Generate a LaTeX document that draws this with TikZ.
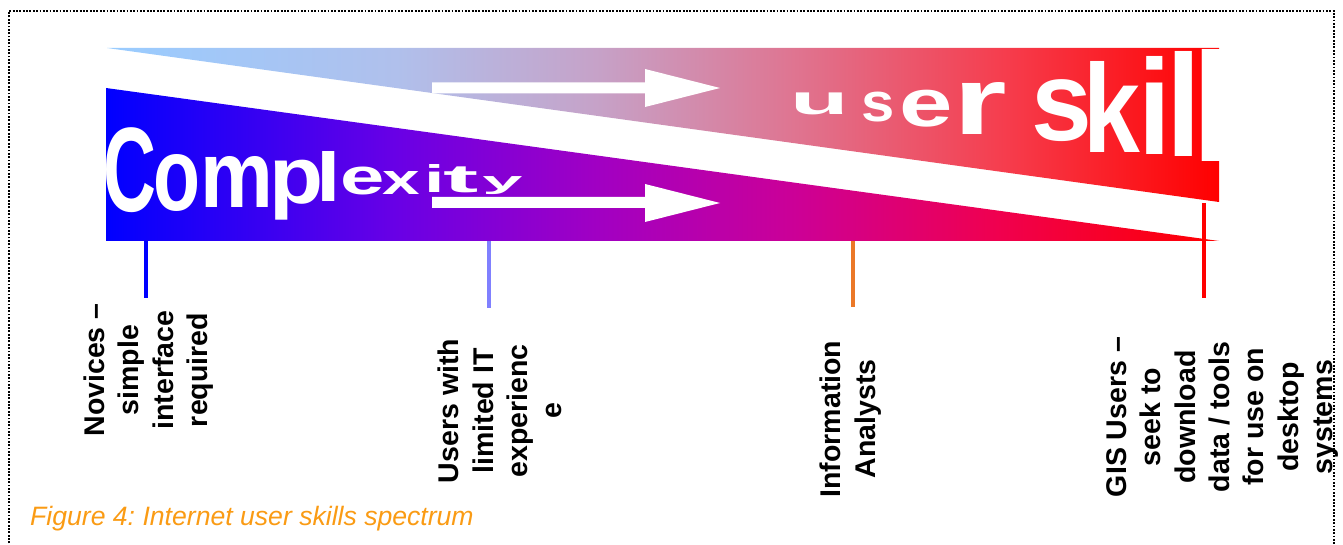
\documentclass[tikz,border=0pt]{standalone}
\usepackage{fontspec}
\usepackage{graphicx}
\setmainfont{Liberation Sans}
\newfontfamily\artfont{Liberation Sans}
\frenchspacing

% colour ramps of the two wedges (path box maps onto 25bp..75bp)
\pgfdeclarehorizontalshading{skillshade}{100bp}{%
  rgb(0bp)=(0.6,0.8,1); rgb(25bp)=(0.6,0.8,1);
  rgb(38bp)=(0.69,0.753,0.925); rgb(47bp)=(0.776,0.635,0.784);
  rgb(56bp)=(0.875,0.455,0.565); rgb(65.5bp)=(0.965,0.235,0.298);
  rgb(75bp)=(1,0,0); rgb(100bp)=(1,0,0)}
\pgfdeclarehorizontalshading{complexshade}{100bp}{%
  rgb(0bp)=(0,0,1); rgb(25bp)=(0,0,1);
  rgb(38bp)=(0.41,0,0.9); rgb(47bp)=(0.63,0,0.765);
  rgb(56bp)=(0.8,0,0.59); rgb(65bp)=(0.94,0,0.31);
  rgb(75bp)=(1,0,0); rgb(100bp)=(1,0,0)}

\definecolor{tickblue}{RGB}{0,0,255}
\definecolor{ticklilac}{RGB}{128,128,255}
\definecolor{tickorange}{RGB}{235,120,40}
\definecolor{tickred}{RGB}{255,0,0}
\definecolor{captionorange}{RGB}{250,155,20}

\tikzset{
  artglyph/.style={anchor=south west, inner sep=0pt, outer sep=0pt, text=white},
  lab/.style={rotate=90, align=center, inner sep=0pt,
    font=\fontsize{28.5}{34.3}\selectfont\bfseries},
  tick/.style={line width=3.2pt},
  dotborder/.style={line width=1.8pt, dash pattern=on 1.8pt off 1.55pt},
  caption/.style={anchor=base west, inner sep=0pt, text=captionorange,
    font=\fontsize{26.6}{30}\selectfont\itshape},
}

% one stretched white letter: name, glyph, ink left, ink right, ink top, ink bottom,
% advance/ink width ratio, left bearing fraction
\newcommand\artletter[8]{%
  \pgfmathsetmacro\boxw{(#4-#3)*#7}%
  \pgfmathsetmacro\boxl{#3-#8*\boxw}%
  \pgfmathsetmacro\boxh{#6-#5}%
  \node[artglyph] (#1) at (\boxl,#6) {\resizebox*{\boxw pt}{\boxh pt}{\artfont\bfseries #2}};%
}

\begin{document}
\begin{tikzpicture}[x=1pt,y=-1pt]
\useasboundingbox (0,0) rectangle (1343,545);

% the two wedges
\shade[shading=skillshade] (107,48) -- (1219,48) -- (1219,202) -- cycle;
\shade[shading=complexshade] (106,88) -- (106,241) -- (1219,241) -- cycle;

% "Complexity", shrinking to the right
\artletter{c1}{C}{107}{153}{128}{213}{1.15}{0.068}
\artletter{c2}{o}{157}{198}{155}{212}{1.146}{0.064}
\artletter{c3}{m}{206}{268}{157}{208}{1.174}{0.074}
\artletter{c4}{p}{275}{320}{160}{220}{1.2}{0.11}
\artletter{c5}{l}{323}{335}{152}{202}{2.04}{0.255}
\artletter{c6}{e}{343}{382}{167}{195}{1.135}{0.06}
\artletter{c7}{x}{383}{420}{172}{195}{1.015}{0.007}
\artletter{c8}{i}{430}{440}{165}{193}{2.04}{0.255}
\artletter{c9}{t}{445}{477}{167}{193}{1.1}{0.048}
\artletter{c10}{y}{483}{522}{177}{195}{1.03}{0.014}

% "user skill", growing to the right
\begin{scope}
\clip (0,0) rectangle (1219,545);
\artletter{u1}{u}{797}{843}{93}{115}{1.27}{0.105}
\artletter{u2}{s}{863}{892}{92}{122}{1.146}{0.054}
\artletter{u3}{e}{903}{950}{90}{127}{1.135}{0.06}
\artletter{u4}{r}{962}{1007}{83}{135}{1.19}{0.167}
\artletter{s1}{s}{1035}{1088}{80}{142}{1.146}{0.054}
\artletter{s2}{k}{1090}{1140}{62}{153}{1.135}{0.119}
\artletter{s3}{i}{1147}{1163}{57}{155}{2.04}{0.255}
\artletter{s4}{l}{1175}{1192}{52}{157}{2.04}{0.255}
\artletter{s5}{l}{1202}{1221}{50}{162}{2.04}{0.255}
\end{scope}

% white arrows
\fill[white] (432,82.5) -- (645,82.5) -- (645,69) -- (720,88) -- (645,107)
  -- (645,93.5) -- (432,93.5) -- cycle;
\fill[white] (432,197) -- (645,197) -- (645,184) -- (720,203) -- (645,222)
  -- (645,208) -- (432,208) -- cycle;

% ticks below the spectrum
\coordinate (t1a) at (146,241);  \coordinate (t1b) at (146,298);
\coordinate (t2a) at (489,241);  \coordinate (t2b) at (489,308);
\coordinate (t3a) at (853,241);  \coordinate (t3b) at (853,307);
\coordinate (t4a) at (1204,203); \coordinate (t4b) at (1204,298);
\draw[tick, tickblue] (t1a) -- (t1b);
\draw[tick, ticklilac] (t2a) -- (t2b);
\draw[tick, tickorange] (t3a) -- (t3b);
\draw[tick, tickred, line width=4pt] (t4a) -- (t4b);

% user groups
\node[lab] (novices) at (148.5,370) {Novices –\\simple\\interface\\required};
\node[lab] (limited) at (500,411) {Users with\\limited IT\\experienc\\e};
\node[lab] (analysts) at (850.5,419) {Information\\Analysts};
\node[lab] (gis) at (1222.5,417) {GIS Users –\\seek to\\download\\data / tools\\for use on\\desktop\\systems};

% caption
\node[caption] (cap) at (30,525) {Figure 4: Internet user skills spectrum};

% dotted frame
\draw[dotborder] (9,560) -- (9,11) -- (1334,11) -- (1334,560);
\end{tikzpicture}
\end{document}
